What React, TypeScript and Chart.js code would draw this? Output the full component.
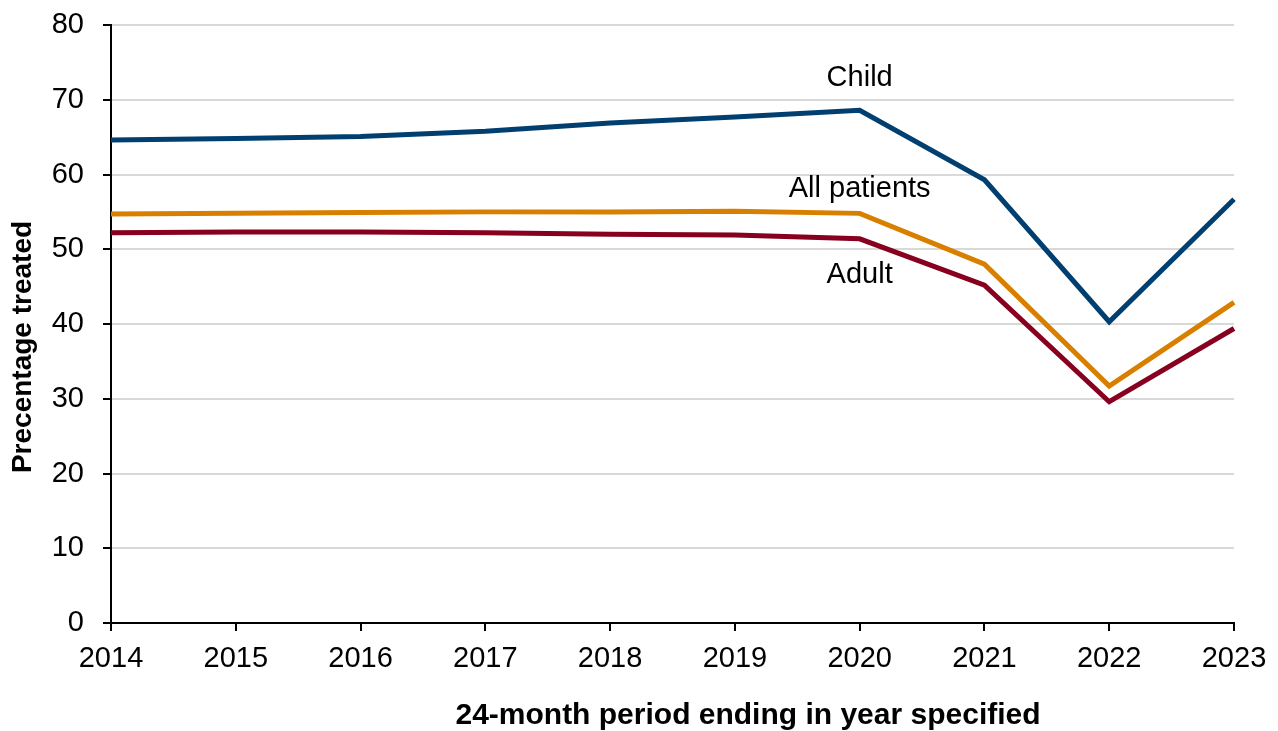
import React, { useEffect, useRef } from "react";
import { Chart, registerables } from "chart.js";

Chart.register(...registerables);

const years = ["2014", "2015", "2016", "2017", "2018", "2019", "2020", "2021", "2022", "2023"];
const childValues = [64.6, 64.8, 65.1, 65.8, 66.9, 67.7, 68.6, 59.3, 40.3, 56.7];
const allPatientsValues = [54.7, 54.8, 54.9, 55.0, 55.0, 55.1, 54.8, 48.0, 31.7, 42.9];
const adultValues = [52.2, 52.3, 52.3, 52.2, 52.0, 51.9, 51.4, 45.2, 29.6, 39.4];

// Series label text with the category index and value where each label sits
const seriesLabels = [
  { text: "Child", index: 6, value: 72.9 },
  { text: "All patients", index: 6, value: 58.0 },
  { text: "Adult", index: 6, value: 46.5 },
];

const FONT = "'Liberation Sans', Arial, sans-serif";

const labelPlugin = {
  id: "seriesLabels",
  afterDraw(chart: any) {
    const { ctx, scales } = chart;
    ctx.save();
    ctx.fillStyle = "#000";
    ctx.font = `29px ${FONT}`;
    ctx.textAlign = "center";
    ctx.textBaseline = "middle";
    for (const l of seriesLabels) {
      ctx.fillText(l.text, scales.x.getPixelForValue(l.index), scales.y.getPixelForValue(l.value));
    }
    // Axis titles
    ctx.font = `bold 30px ${FONT}`;
    ctx.fillText("24-month period ending in year specified", 748, 716);
    ctx.font = `bold 28px ${FONT}`;
    ctx.translate(23, 347);
    ctx.rotate(-Math.PI / 2);
    ctx.fillText("Precentage treated", 0, 0);
    ctx.restore();
  },
};

export default function App() {
  const ref = useRef<HTMLCanvasElement>(null);

  useEffect(() => {
    document.body.style.margin = "0";
    const chart = new Chart(ref.current!, {
      type: "line",
      data: {
        labels: years,
        datasets: [
          { label: "Child", data: childValues, borderColor: "#003f6f", borderWidth: 5, pointRadius: 0, tension: 0 },
          { label: "All patients", data: allPatientsValues, borderColor: "#d97f00", borderWidth: 5, pointRadius: 0, tension: 0 },
          { label: "Adult", data: adultValues, borderColor: "#88001f", borderWidth: 5, pointRadius: 0, tension: 0 },
        ],
      },
      options: {
        responsive: false,
        animation: false,
        layout: { padding: { left: 0, top: 25, right: 44, bottom: 0 } },
        plugins: { legend: { display: false }, tooltip: { enabled: false } },
        scales: {
          x: {
            offset: false,
            grid: { drawOnChartArea: false, drawTicks: true, tickLength: 8, color: "#000", lineWidth: 2 },
            border: { color: "#000", width: 2 },
            ticks: { color: "#000", font: { family: FONT, size: 29 }, padding: 11, maxRotation: 0, autoSkip: false },
            afterFit: (s: any) => { s.height = 108; s.paddingLeft = 0; s.paddingRight = 0; },
          },
          y: {
            min: 0,
            max: 80,
            ticks: { stepSize: 10, color: "#000", font: { family: FONT, size: 29 }, padding: 19 },
            grid: { color: "#d9d9d9", lineWidth: 2, tickColor: "#000", tickLength: 8 },
            border: { color: "#000", width: 2 },
            afterFit: (s: any) => { s.width = 111; s.paddingTop = 0; s.paddingBottom = 0; },
          },
        },
      },
      plugins: [labelPlugin],
    });
    return () => chart.destroy();
  }, []);

  return <canvas ref={ref} width={1278} height={731} style={{ display: "block" }} />;
}
